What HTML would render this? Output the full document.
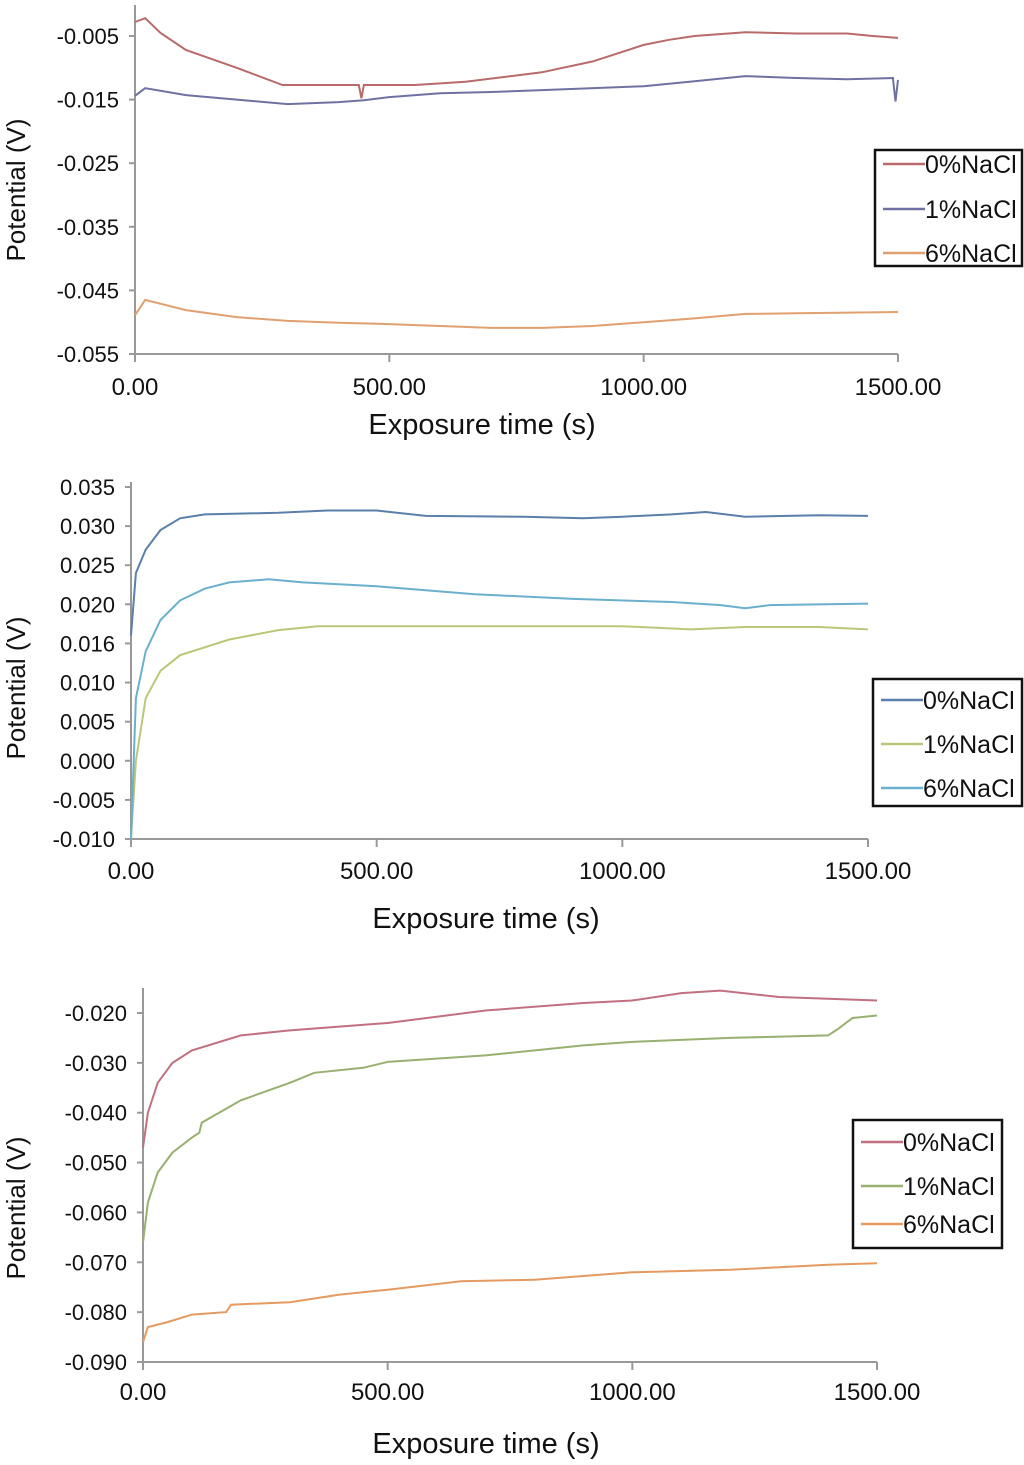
<!DOCTYPE html>
<html><head><meta charset="utf-8"><style>
html,body{margin:0;padding:0;background:#fff;}
svg text{font-family:"Liberation Sans",sans-serif;fill:#111;}
</style></head><body>
<svg id="s" width="1024" height="1460" viewBox="0 0 1024 1460" xmlns="http://www.w3.org/2000/svg"></svg>
<script>
// ---- Chart 1 data ----
const c1Times0=[0,20,50,100,200,290,440,445,450,550,650,800,900,1000,1050,1100,1200,1300,1400,1450,1500];
const c1Red=[-0.0028,-0.0022,-0.0045,-0.0072,-0.010,-0.0127,-0.0127,-0.0148,-0.0127,-0.0127,-0.0122,-0.0107,-0.009,-0.0064,-0.0056,-0.005,-0.0044,-0.0046,-0.0046,-0.005,-0.0053];
const c1Times1=[0,20,100,200,300,400,450,500,600,700,800,1000,1100,1200,1300,1400,1490,1495,1500];
const c1Blue=[-0.0144,-0.0132,-0.0143,-0.0150,-0.0157,-0.0154,-0.0151,-0.0146,-0.0140,-0.0138,-0.0135,-0.0129,-0.0121,-0.0113,-0.0116,-0.0118,-0.0116,-0.0153,-0.0119];
const c1Times6=[0,20,100,200,300,400,500,600,700,800,900,1000,1100,1200,1300,1500];
const c1Orange=[-0.0489,-0.0465,-0.0481,-0.0492,-0.0498,-0.0501,-0.0503,-0.0506,-0.0509,-0.0509,-0.0506,-0.0500,-0.0494,-0.0487,-0.0486,-0.0484];
const c1Ticks=["-0.005","-0.015","-0.025","-0.035","-0.045","-0.055"];
const c1TickVals=[-0.005,-0.015,-0.025,-0.035,-0.045,-0.055];
// ---- Chart 2 data ----
const c2T0=[0,10,30,60,100,150,300,400,500,600,800,920,1000,1100,1170,1250,1400,1500];
const c2Dark=[0.016,0.024,0.027,0.0295,0.031,0.0315,0.0317,0.032,0.032,0.0313,0.0312,0.031,0.0312,0.0315,0.0318,0.0312,0.0314,0.0313];
const c2T1=[0,10,30,60,100,200,300,380,600,1000,1140,1250,1400,1500];
const c2Green=[-0.010,0.000,0.008,0.0115,0.0135,0.0155,0.0167,0.0172,0.0172,0.0172,0.0168,0.0171,0.0171,0.0168];
const c2T6=[0,10,30,60,100,150,200,280,350,500,700,900,1100,1200,1250,1300,1500];
const c2Light=[-0.010,0.008,0.014,0.018,0.0205,0.022,0.0228,0.0232,0.0228,0.0223,0.0213,0.0207,0.0203,0.0199,0.0195,0.0199,0.0201];
const c2Ticks=["0.035","0.030","0.025","0.020","0.016","0.010","0.005","0.000","-0.005","-0.010"];
const c2TickVals=[0.035,0.030,0.025,0.020,0.015,0.010,0.005,0.000,-0.005,-0.010];
// ---- Chart 3 data ----
const c3T0=[0,10,30,60,100,200,300,500,700,900,1000,1100,1180,1300,1500];
const c3Red=[-0.047,-0.040,-0.034,-0.030,-0.0275,-0.0245,-0.0235,-0.022,-0.0195,-0.018,-0.0175,-0.016,-0.0155,-0.0168,-0.0175];
const c3T1=[0,10,30,60,100,115,120,200,300,350,450,500,700,900,1000,1200,1400,1420,1450,1500];
const c3Green=[-0.066,-0.058,-0.052,-0.048,-0.045,-0.044,-0.042,-0.0375,-0.034,-0.032,-0.031,-0.0298,-0.0285,-0.0265,-0.0258,-0.025,-0.0245,-0.0232,-0.021,-0.0205];
const c3T6=[0,10,50,100,170,180,300,400,500,650,800,1000,1200,1400,1500];
const c3Orange=[-0.086,-0.083,-0.082,-0.0805,-0.080,-0.0785,-0.078,-0.0765,-0.0755,-0.0738,-0.0735,-0.072,-0.0715,-0.0705,-0.0702];
const c3Ticks=["-0.020","-0.030","-0.040","-0.050","-0.060","-0.070","-0.080","-0.090"];
const c3TickVals=[-0.020,-0.030,-0.040,-0.050,-0.060,-0.070,-0.080,-0.090];
const xTicks=["0.00","500.00","1000.00","1500.00"];
const xTickVals=[0,500,1000,1500];
const legendLabels=["0%NaCl","1%NaCl","6%NaCl"];

const svg=document.getElementById('s');
const NS='http://www.w3.org/2000/svg';
function mk(tag,attrs,parent){const e=document.createElementNS(NS,tag);for(const k in attrs)e.setAttribute(k,attrs[k]);(parent||svg).appendChild(e);return e;}

function chart(id,cfg){
  const g=mk('g',{});
  
  
  const xs=t=>cfg.x0+(t/1500)*(cfg.x1-cfg.x0);
  const ys=v=>cfg.yB-(v-cfg.vB)/(cfg.vT-cfg.vB)*(cfg.yB-cfg.yT);
  const ax=mk('line',{x1:cfg.x0,y1:cfg.axTop,x2:cfg.x0,y2:cfg.yB,stroke:'#999','stroke-width':2},g);
  
  
  const bx=mk('line',{x1:cfg.x0,y1:cfg.yB,x2:cfg.x1,y2:cfg.yB,stroke:'#999','stroke-width':2},g);
  
  
  cfg.tickVals.forEach((v,i)=>{
    const y=ys(v);
    mk('line',{x1:cfg.x0-6,y1:y,x2:cfg.x0,y2:y,stroke:'#999','stroke-width':2},g);
    const t=mk('text',{x:cfg.x0-16,y:y+8,'text-anchor':'end','font-size':22},g);
    t.textContent=cfg.ticks[i];
    
    
  });
  xTickVals.forEach((v,i)=>{
    const x=xs(v);
    mk('line',{x1:x,y1:cfg.yB,x2:x,y2:cfg.yB+8,stroke:'#999','stroke-width':2},g);
    const t=mk('text',{x:x,y:cfg.yB+cfg.xlOff,'text-anchor':'middle','font-size':24},g);
    t.textContent=xTicks[i];
    
    
  });
  const xt=mk('text',{x:cfg.xtX,y:cfg.xtY,'text-anchor':'middle','font-size':29},g);
  xt.textContent='Exposure time (s)';
  
  
  const yt=mk('text',{x:0,y:0,'text-anchor':'middle','font-size':26,transform:`translate(25,${cfg.ytY}) rotate(-90)`},g);
  yt.textContent='Potential (V)';
  
  
  cfg.series.forEach((s,i)=>{
    const d=s.t.map((t,j)=>(j?'L':'M')+xs(t).toFixed(1)+','+ys(s.v[j]).toFixed(1)).join(' ');
    const p=mk('path',{d:d,fill:'none',stroke:s.c,'stroke-width':2},g);
    
    
  });
  const L=cfg.leg;
  const lb=mk('rect',{x:L.x,y:L.y,width:L.w,height:L.h,fill:'#fff',stroke:'#111','stroke-width':2.5},g);
  
  
  cfg.series.forEach((s,i)=>{
    const y=L.rows[i];
    mk('line',{x1:L.x+8,y1:y,x2:L.x+50,y2:y,stroke:s.c,'stroke-width':2.5},g);
    const t=mk('text',{x:L.x+50,y:y+9,'font-size':25},g);
    t.textContent=legendLabels[i];
    
    
  });
}

chart('chart-top',{x0:135,x1:898,yB:354,vB:-0.055,yT:36,vT:-0.005,axTop:5,ticks:c1Ticks,tickVals:c1TickVals,xlOff:41,xtX:482,xtY:434,ytY:190,
  series:[{t:c1Times0,v:c1Red,c:'#b96a6a'},{t:c1Times1,v:c1Blue,c:'#6f72a0'},{t:c1Times6,v:c1Orange,c:'#e0a070'}],
  leg:{x:875,y:150,w:147,h:116,rows:[164,209,253]}});
chart('chart-middle',{x0:131,x1:868,yB:839,vB:-0.010,yT:487,vT:0.035,axTop:482,ticks:c2Ticks,tickVals:c2TickVals,xlOff:40,xtX:486,xtY:928,ytY:688,
  series:[{t:c2T0,v:c2Dark,c:'#5a7fa8'},{t:c2T1,v:c2Green,c:'#b8c878'},{t:c2T6,v:c2Light,c:'#6ab0cc'}],
  leg:{x:873,y:679,w:149,h:127,rows:[700,744,788]}});
chart('chart-bottom',{x0:143,x1:877,yB:1362,vB:-0.090,yT:1013,vT:-0.020,axTop:988,ticks:c3Ticks,tickVals:c3TickVals,xlOff:38,xtX:486,xtY:1453,ytY:1208,
  series:[{t:c3T0,v:c3Red,c:'#c07080'},{t:c3T1,v:c3Green,c:'#98b070'},{t:c3T6,v:c3Orange,c:'#e49a60'}],
  leg:{x:853,y:1120,w:149,h:128,rows:[1142,1186,1224]}});
</script>
</body></html>
